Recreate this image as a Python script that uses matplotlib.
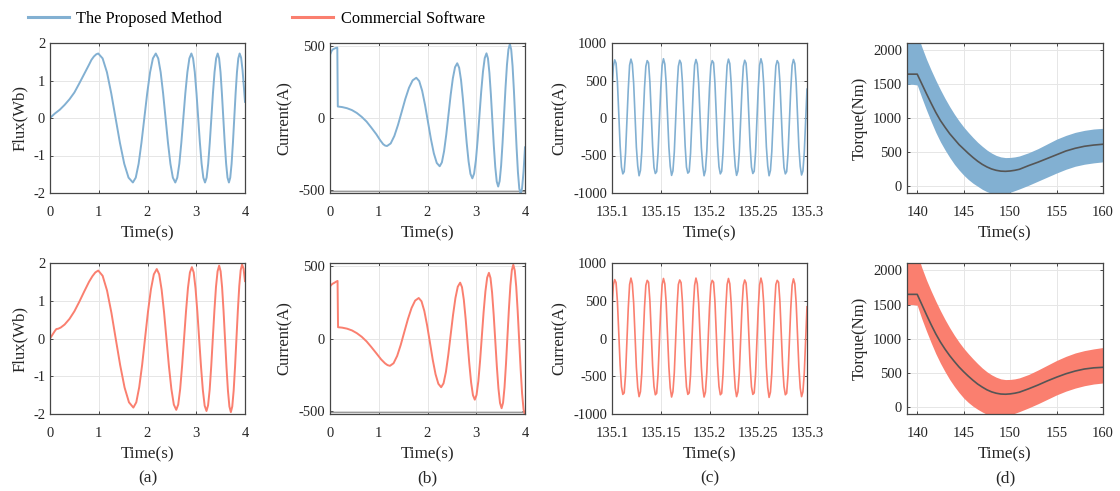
import numpy as np
import matplotlib
matplotlib.use('Agg')
from matplotlib import pyplot as plt
from matplotlib.lines import Line2D

plt.rcParams['font.family'] = ['Liberation Serif', 'DejaVu Serif']
plt.rcParams['axes.unicode_minus'] = False

BLUE = '#82B0D2'
RED = '#FA7F6F'
DARK = '#555555'

# ---- (a) flux ----
flux_t_top = [0, 0.05, 0.1, 0.15, 0.2, 0.3, 0.4, 0.5, 0.6, 0.7, 0.8, 0.85, 0.9, 0.95, 0.99,
              1.079, 1.168, 1.256, 1.345, 1.434, 1.523, 1.611, 1.70,
              1.759, 1.818, 1.876, 1.935, 1.994, 2.053, 2.111, 2.17,
              2.22, 2.27, 2.32, 2.37, 2.42, 2.47, 2.52, 2.57,
              2.611, 2.653, 2.694, 2.735, 2.776, 2.818, 2.859, 2.90,
              2.935, 2.97, 3.005, 3.04, 3.075, 3.11, 3.145, 3.18,
              3.2125, 3.245, 3.2775, 3.31, 3.3425, 3.375, 3.4075, 3.44,
              3.469, 3.498, 3.526, 3.555, 3.584, 3.613, 3.641, 3.67,
              3.6975, 3.725, 3.7525, 3.78, 3.8075, 3.835, 3.8625, 3.89,
              3.92, 3.95, 3.975, 4.0]
flux_top = [0, 0.06, 0.12, 0.17, 0.22, 0.35, 0.50, 0.68, 0.92, 1.17, 1.42, 1.55, 1.64, 1.70, 1.72,
            1.59, 1.22, 0.66, 0, -0.66, -1.22, -1.59, -1.72,
            -1.59, -1.22, -0.66, 0, 0.66, 1.22, 1.59, 1.72,
            1.59, 1.22, 0.66, 0, -0.66, -1.22, -1.59, -1.72,
            -1.59, -1.22, -0.66, 0, 0.66, 1.22, 1.59, 1.72,
            1.59, 1.22, 0.66, 0, -0.66, -1.22, -1.59, -1.72,
            -1.59, -1.22, -0.66, 0, 0.66, 1.22, 1.59, 1.72,
            1.59, 1.22, 0.66, 0, -0.66, -1.22, -1.59, -1.72,
            -1.59, -1.22, -0.66, 0, 0.66, 1.22, 1.59, 1.72,
            1.61, 1.27, 0.86, 0.43]

flux_t_bot = [0, 0.05, 0.1, 0.13, 0.17, 0.22, 0.3, 0.4, 0.5, 0.6, 0.7, 0.8, 0.87, 0.93, 0.99,
              1.08, 1.17, 1.26, 1.35, 1.44, 1.53, 1.62, 1.71,
              1.77, 1.83, 1.89, 1.95, 2.01, 2.07, 2.13, 2.19,
              2.24, 2.29, 2.34, 2.39, 2.44, 2.49, 2.54, 2.59,
              2.63, 2.67, 2.71, 2.75, 2.79, 2.83, 2.87, 2.91,
              2.9475, 2.985, 3.0225, 3.06, 3.0975, 3.135, 3.1725, 3.21,
              3.2425, 3.275, 3.3075, 3.34, 3.3725, 3.405, 3.4375, 3.47,
              3.50, 3.53, 3.56, 3.59, 3.62, 3.65, 3.68, 3.71,
              3.7388, 3.7675, 3.7963, 3.825, 3.8538, 3.8825, 3.9113, 3.94,
              3.97, 4.0]
flux_bot = [0, 0.10, 0.20, 0.25, 0.26, 0.29, 0.37, 0.52, 0.72, 0.97, 1.24, 1.50, 1.65, 1.75, 1.80,
            1.66, 1.27, 0.68, -0.02, -0.71, -1.30, -1.69, -1.83,
            -1.69, -1.29, -0.70, 0.01, 0.71, 1.30, 1.70, 1.84,
            1.70, 1.29, 0.69, -0.03, -0.74, -1.34, -1.75, -1.89,
            -1.75, -1.34, -0.72, 0, 0.72, 1.34, 1.75, 1.89,
            1.75, 1.33, 0.71, -0.02, -0.74, -1.36, -1.78, -1.92,
            -1.77, -1.36, -0.73, 0.01, 0.74, 1.37, 1.78, 1.93,
            1.78, 1.36, 0.73, -0.01, -0.75, -1.38, -1.80, -1.95,
            -1.80, -1.38, -0.74, 0.01, 0.75, 1.39, 1.81, 1.96,
            1.85, 1.52]

# ---- (b) current, start-up ----
cur_t_top = [0, 0.003, 0.03, 0.06, 0.09, 0.12, 0.15, 0.16,
             0.25, 0.35, 0.45, 0.55, 0.65, 0.75, 0.85, 0.95, 1.03, 1.09, 1.13, 1.17,
             1.245, 1.32, 1.395, 1.47, 1.545, 1.62, 1.695, 1.77,
             1.83, 1.89, 1.95, 2.01, 2.07, 2.13, 2.19, 2.25,
             2.295, 2.34, 2.385, 2.43, 2.475, 2.52, 2.565, 2.61,
             2.649, 2.688, 2.726, 2.765, 2.804, 2.843, 2.881, 2.92,
             2.956, 2.993, 3.029, 3.065, 3.101, 3.138, 3.174, 3.21,
             3.24, 3.27, 3.30, 3.33, 3.36, 3.39, 3.42, 3.45,
             3.48, 3.51, 3.54, 3.57, 3.60, 3.63, 3.66, 3.69,
             3.7175, 3.745, 3.7725, 3.80, 3.8275, 3.855, 3.8825, 3.91,
             3.94, 3.97, 4.0]
cur_top = [0, 440, 465, 478, 483, 487, 490, 80,
           76, 68, 55, 35, 8, -25, -68, -113, -155, -182, -192, -195,
           -177, -125, -48, 42, 133, 210, 262, 280,
           257, 190, 90, -28, -146, -246, -313, -336,
           -309, -231, -115, 22, 160, 276, 354, 381,
           350, 264, 134, -20, -173, -303, -389, -420,
           -387, -293, -151, 15, 181, 323, 417, 450,
           415, 314, 164, -14, -191, -341, -442, -477,
           -439, -332, -171, 19, 209, 370, 477, 515,
           475, 362, 192, -8, -207, -377, -490, -530,
           -489, -374, -204]

cur_t_bot = [0, 0.003, 0.03, 0.06, 0.09, 0.12, 0.155, 0.165,
             0.25, 0.35, 0.45, 0.55, 0.65, 0.75, 0.85, 0.95, 1.05, 1.13, 1.18, 1.23,
             1.304, 1.378, 1.451, 1.525, 1.599, 1.673, 1.746, 1.82,
             1.8775, 1.935, 1.9925, 2.05, 2.1075, 2.165, 2.2225, 2.28,
             2.329, 2.378, 2.426, 2.475, 2.524, 2.573, 2.621, 2.67,
             2.7075, 2.745, 2.7825, 2.82, 2.8575, 2.895, 2.9325, 2.97,
             3.006, 3.043, 3.079, 3.115, 3.151, 3.188, 3.224, 3.26,
             3.2925, 3.325, 3.3575, 3.39, 3.4225, 3.455, 3.4875, 3.52,
             3.55, 3.58, 3.61, 3.64, 3.67, 3.70, 3.73, 3.76,
             3.79, 3.82, 3.85, 3.88, 3.91, 3.94, 3.97, 4.0]
cur_bot = [0, 360, 372, 380, 385, 392, 398, 78,
           75, 68, 56, 37, 12, -20, -60, -102, -145, -172, -184, -189,
           -171, -120, -44, 46, 135, 211, 262, 280,
           257, 190, 90, -28, -147, -247, -313, -337,
           -310, -231, -114, 25, 163, 280, 358, 386,
           355, 268, 136, -19, -173, -305, -392, -423,
           -390, -295, -152, 16, 183, 326, 421, 454,
           418, 317, 165, -14, -193, -345, -446, -482,
           -444, -337, -176, 14, 204, 365, 472, 510,
           470, 358, 189, -10, -209, -378, -490, -530]

# ---- (c) current, steady state (even samples 135.1 .. 135.3) ----
ss_top = [390, 690, 775, 730, 480, 50, -370, -655, -745, -715, -470, -40,
          380, 705, 785, 720, 460, 30, -390, -640, -770, -700, -450, -20,
          400, 690, 765, 735, 475, 45, -375, -660, -740, -715, -465, -35,
          385, 700, 790, 720, 465, 35, -385, -645, -765, -705, -455, -15,
          395, 690, 770, 730, 480, 50, -370, -655, -735, -715, -470, -30,
          380, 705, 780, 720, 460, 25, -395, -640, -770, -700, -445, -20,
          400, 695, 765, 735, 470, 40, -380, -650, -745, -710, -460, -35,
          375, 700, 785, 725, 465, 30, -390, -645, -765, -705, -455, -20,
          390, 690, 770, 730, 475, 45, -375, -655, -740, -710, -465, -35,
          395, 705, 790, 720, 460, 35, -385, -640, -770, -700, -450, -15,
          385, 695, 765, 730, 480, 50, -370, -660, -745, -715, -470, -30,
          380, 700, 780, 725, 465, 30, -390, -645, -760, -705, -455, -20,
          385]
ss_bot = [420, 710, 780, 740, 490, 60, -350, -640, -740, -720, -480, -50,
          400, 715, 800, 725, 470, 40, -380, -650, -770, -705, -460, -30,
          410, 705, 770, 745, 495, 55, -360, -635, -745, -725, -475, -45,
          395, 710, 795, 725, 475, 35, -375, -655, -775, -705, -455, -10,
          415, 715, 775, 740, 490, 60, -355, -640, -740, -720, -480, -40,
          400, 705, 800, 725, 470, 30, -380, -650, -775, -710, -450, -15,
          410, 710, 770, 745, 495, 50, -360, -635, -745, -725, -470, -45,
          395, 715, 795, 725, 470, 40, -375, -655, -770, -705, -455, -10,
          420, 705, 775, 735, 490, 55, -355, -640, -740, -720, -480, -40,
          400, 710, 800, 725, 475, 35, -380, -650, -780, -710, -460, -15,
          410, 715, 770, 745, 490, 60, -360, -635, -745, -725, -475, -50,
          395, 705, 790, 725, 470, 40, -375, -655, -770, -705, -455, -10,
          420]
ss_ticks = [135.1, 135.15, 135.2, 135.25, 135.3]
ss_ticklabels = ['135.1', '135.15', '135.2', '135.25', '135.3']

# ---- (d) torque: ripple band envelope + mean ----
tq_t = [138.9, 139.5, 140, 140.5, 141, 141.5, 142, 142.5, 143, 143.5, 144, 144.5,
        145, 145.5, 146, 146.5, 147, 147.5, 148, 148.5, 149, 149.5, 150, 150.5,
        151, 152, 153, 154, 155, 156, 157, 158, 159, 160]
tq_mid_top = [1650, 1650, 1650, 1505, 1360, 1220, 1085, 965, 865, 770, 690, 610,
              545, 480, 420, 365, 318, 280, 250, 230, 218, 215, 220, 230,
              245, 300, 350, 405, 460, 515, 555, 585, 603, 615]
tq_hi_top = [2250, 2250, 2250, 2050, 1870, 1710, 1560, 1420, 1290, 1170, 1060, 960,
             870, 790, 715, 645, 585, 530, 485, 450, 428, 418, 420, 428,
             442, 490, 550, 620, 690, 745, 790, 820, 840, 850]
tq_lo_top = [1500, 1500, 1490, 1300, 1120, 950, 790, 650, 530, 420, 320, 235,
             160, 95, 40, -5, -50, -85, -110, -125, -125, -115, -95, -70,
             -45, 10, 70, 130, 190, 245, 290, 320, 340, 355]
tq_mid_bot = [1650, 1650, 1650, 1500, 1350, 1205, 1070, 950, 845, 750, 665, 585,
              515, 450, 390, 335, 290, 250, 220, 200, 188, 185, 190, 200,
              215, 265, 320, 380, 435, 485, 525, 555, 572, 580]
tq_hi_bot = [2250, 2250, 2250, 2040, 1860, 1700, 1550, 1410, 1280, 1160, 1050, 950,
             860, 780, 705, 635, 570, 515, 470, 435, 410, 400, 402, 410,
             425, 475, 540, 610, 680, 740, 790, 825, 850, 870]
tq_lo_bot = [1500, 1500, 1490, 1290, 1110, 940, 780, 640, 515, 400, 300, 210,
             130, 65, 10, -35, -75, -110, -135, -150, -150, -140, -120, -95,
             -70, -15, 45, 110, 175, 230, 275, 310, 335, 350]

captions = ['(a)', '(b)', '(c)', '(d)']
legend_names = ['The Proposed Method', 'Commercial Software']

W, H = 1120, 491
col_px = [(50, 245), (330, 525), (612, 807), (907, 1103)]
row_px = [(43, 193), (263, 414)]


def style_axes(ax, ylabel):
    ax.grid(True, color='#e6e6e6', lw=0.7)
    ax.set_axisbelow(True)
    for s in ax.spines.values():
        s.set_color('#454545')
        s.set_linewidth(0.9)
    ax.tick_params(direction='in', top=True, right=True, length=2.5, width=0.7,
                   colors='#454545', labelcolor='#262626', labelsize=10.5)
    ax.tick_params(axis='x', pad=9.5)
    ax.tick_params(axis='y', pad=3.5)
    ax.set_xlabel('Time(s)', fontsize=12.3, color='#262626', labelpad=4.5)
    ax.set_ylabel(ylabel, fontsize=12, color='#262626')


def make_axes(fig, row, col):
    x0, x1 = col_px[col]
    y0, y1 = row_px[row]
    return fig.add_axes([x0 / W, 1 - y1 / H, (x1 - x0) / W, (y1 - y0) / H])


fig = plt.figure(figsize=(W / 100, H / 100), dpi=100)

flux_data = [(flux_t_top, flux_top), (flux_t_bot, flux_bot)]
cur_data = [(cur_t_top, cur_top), (cur_t_bot, cur_bot)]
ss_data = [ss_top, ss_bot]
tq_data = [(tq_mid_top, tq_hi_top, tq_lo_top), (tq_mid_bot, tq_hi_bot, tq_lo_bot)]

for row, color in enumerate([BLUE, RED]):
    # (a)
    ax = make_axes(fig, row, 0)
    ax.plot(flux_data[row][0], flux_data[row][1], color=color, lw=1.4)
    ax.set_xlim(0, 4)
    ax.set_ylim(-2, 2)
    ax.set_xticks([0, 1, 2, 3, 4])
    ax.set_yticks([-2, -1, 0, 1, 2])
    style_axes(ax, 'Flux(Wb)')

    # (b)
    ax = make_axes(fig, row, 1)
    ax.axhline(-505, color='#9a9a9a', lw=1.0)
    ax.plot(cur_data[row][0], cur_data[row][1], color=color, lw=1.4)
    ax.set_xlim(0, 4)
    ax.set_ylim(-522, 522)
    ax.set_xticks([0, 1, 2, 3, 4])
    ax.set_yticks([-500, 0, 500])
    style_axes(ax, 'Current(A)')

    # (c)
    ax = make_axes(fig, row, 2)
    t_ss = np.linspace(135.1, 135.3, len(ss_data[row]))
    ax.plot(t_ss, ss_data[row], color=color, lw=1.2)
    ax.set_xlim(135.1, 135.3)
    ax.set_ylim(-1000, 1000)
    ax.set_xticks(ss_ticks)
    ax.set_xticklabels(ss_ticklabels)
    ax.set_yticks([-1000, -500, 0, 500, 1000])
    style_axes(ax, 'Current(A)')

    # (d)
    ax = make_axes(fig, row, 3)
    mid, hi, lo = tq_data[row]
    ax.fill_between(tq_t, lo, hi, color=color, lw=0)
    ax.plot(tq_t, mid, color=DARK, lw=1.2)
    ax.set_xlim(138.9, 160)
    ax.set_ylim(-105, 2110)
    ax.set_xticks([140, 145, 150, 155, 160])
    ax.set_yticks([0, 500, 1000, 1500, 2000])
    style_axes(ax, 'Torque(Nm)')

for col, cap in enumerate(captions):
    x0, x1 = col_px[col]
    fig.text((x0 + x1) / 2 / W, 1 - 478 / H, cap, ha='center', va='center',
             fontsize=12.5, color='#262626')

handles = [Line2D([], [], color=BLUE, lw=2.2), Line2D([], [], color=RED, lw=2.2)]
fig.legend(handles, legend_names, loc='center left', bbox_to_anchor=(28 / W, 1 - 19 / H),
           ncol=2, frameon=False, fontsize=11.8, handlelength=2.5, handletextpad=0.45,
           columnspacing=4.27, borderpad=0, borderaxespad=0)

plt.savefig('out.png', dpi=100)
